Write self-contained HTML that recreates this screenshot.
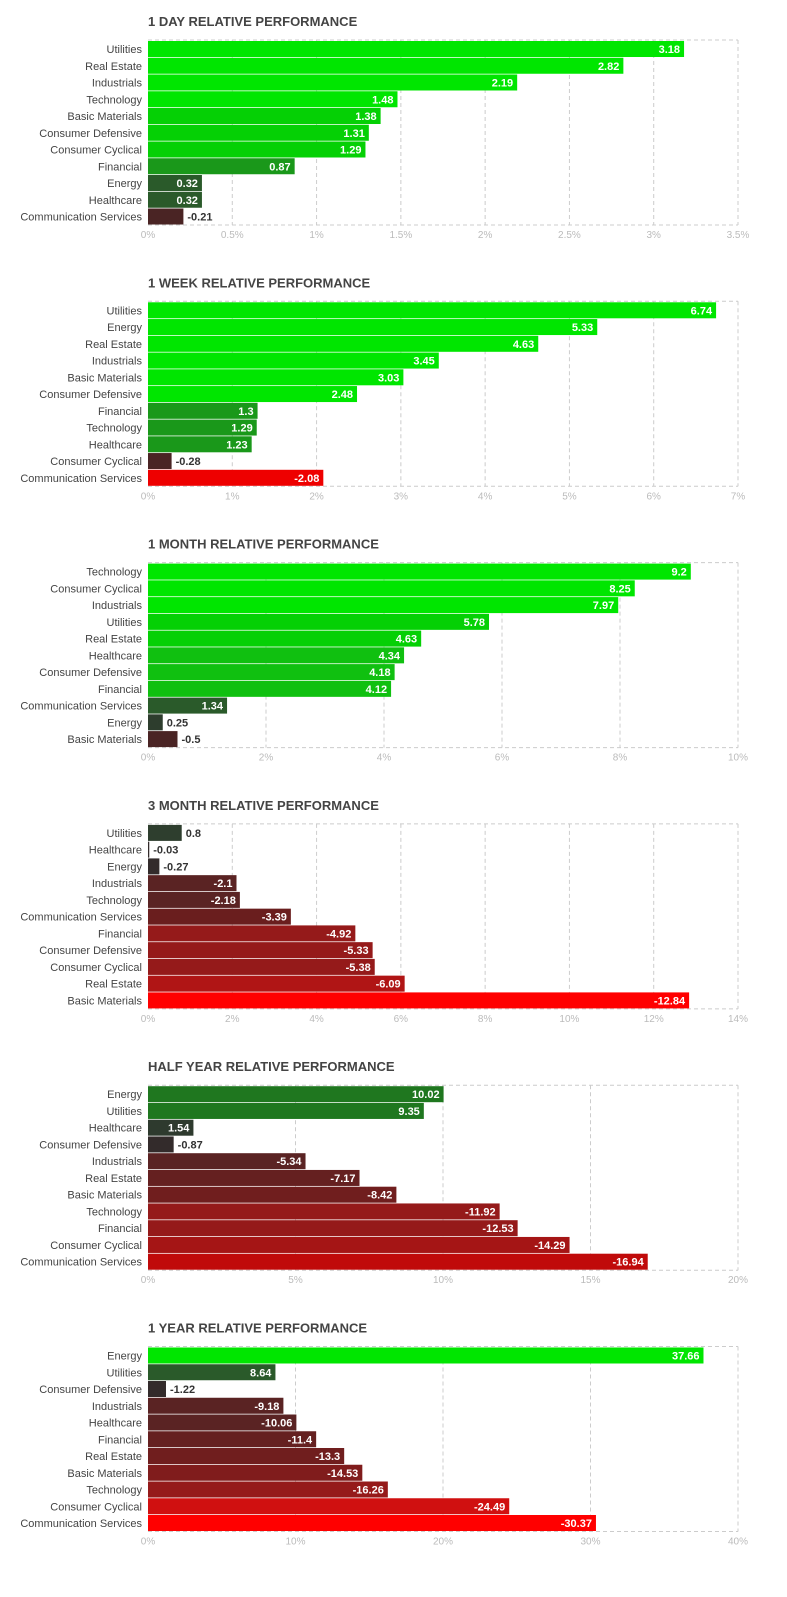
<!DOCTYPE html>
<html><head><meta charset="utf-8">
<style>
body{margin:0;background:#fff;width:787px;height:1597px;overflow:hidden;font-family:"Liberation Sans",sans-serif}
svg{display:block}
</style></head>
<body>
<svg id="chart" width="787" height="1597" xmlns="http://www.w3.org/2000/svg"></svg>
<script>
const titles=["1 DAY RELATIVE PERFORMANCE","1 WEEK RELATIVE PERFORMANCE","1 MONTH RELATIVE PERFORMANCE","3 MONTH RELATIVE PERFORMANCE","HALF YEAR RELATIVE PERFORMANCE","1 YEAR RELATIVE PERFORMANCE"];
const cats1=["Utilities","Real Estate","Industrials","Technology","Basic Materials","Consumer Defensive","Consumer Cyclical","Financial","Energy","Healthcare","Communication Services"];
const vals1=[3.18,2.82,2.19,1.48,1.38,1.31,1.29,0.87,0.32,0.32,-0.21];
const cats2=["Utilities","Energy","Real Estate","Industrials","Basic Materials","Consumer Defensive","Financial","Technology","Healthcare","Consumer Cyclical","Communication Services"];
const vals2=[6.74,5.33,4.63,3.45,3.03,2.48,1.3,1.29,1.23,-0.28,-2.08];
const cats3=["Technology","Consumer Cyclical","Industrials","Utilities","Real Estate","Healthcare","Consumer Defensive","Financial","Communication Services","Energy","Basic Materials"];
const vals3=[9.2,8.25,7.97,5.78,4.63,4.34,4.18,4.12,1.34,0.25,-0.5];
const cats4=["Utilities","Healthcare","Energy","Industrials","Technology","Communication Services","Financial","Consumer Defensive","Consumer Cyclical","Real Estate","Basic Materials"];
const vals4=[0.8,-0.03,-0.27,-2.1,-2.18,-3.39,-4.92,-5.33,-5.38,-6.09,-12.84];
const cats5=["Energy","Utilities","Healthcare","Consumer Defensive","Industrials","Real Estate","Basic Materials","Technology","Financial","Consumer Cyclical","Communication Services"];
const vals5=[10.02,9.35,1.54,-0.87,-5.34,-7.17,-8.42,-11.92,-12.53,-14.29,-16.94];
const cats6=["Energy","Utilities","Consumer Defensive","Industrials","Healthcare","Financial","Real Estate","Basic Materials","Technology","Consumer Cyclical","Communication Services"];
const vals6=[37.66,8.64,-1.22,-9.18,-10.06,-11.4,-13.3,-14.53,-16.26,-24.49,-30.37];
const ticks1=["0%","0.5%","1%","1.5%","2%","2.5%","3%","3.5%"];
const ticks2=["0%","1%","2%","3%","4%","5%","6%","7%"];
const ticks3=["0%","2%","4%","6%","8%","10%"];
const ticks4=["0%","2%","4%","6%","8%","10%","12%","14%"];
const ticks5=["0%","5%","10%","15%","20%"];
const ticks6=["0%","10%","20%","30%","40%"];
const colors1=["#00e600","#00e600","#00e600","#00e600","#05d005","#05d005","#05d005","#1a981a","#2a5a2a","#2a5a2a","#4a2424"];
const colors2=["#00e600","#00e600","#00e600","#00e600","#00e600","#00e600","#1a981a","#1a981a","#1a981a","#4a2424","#ee0000"];
const colors3=["#00e600","#00e600","#00e600","#05d005","#05d005","#10c010","#10c010","#10c010","#2a5a2a","#2d3d2d","#4a2424"];
const colors4=["#2e3e2e","#332b2b","#332b2b","#5a2323","#5a2323","#6a1e1e","#951a1a","#951a1a","#951a1a","#b01515","#ff0000"];
const colors5=["#1f771f","#1f771f","#2e3a2e","#332b2b","#5a2323","#652020","#701e1e","#951a1a","#951a1a","#a51515","#c00a0a"];
const colors6=["#00e600","#2a5a2a","#332b2b","#5a2323","#5a2323","#652020","#701e1e","#801c1c","#951a1a","#d01010","#ff0000"];
const charts=[[cats1,vals1,ticks1,colors1],[cats2,vals2,ticks2,colors2],[cats3,vals3,ticks3,colors3],[cats4,vals4,ticks4,colors4],[cats5,vals5,ticks5,colors5],[cats6,vals6,ticks6,colors6]];
const NS="http://www.w3.org/2000/svg";
const svg=document.getElementById('chart');
function mk(tag,attrs,parent,text){const e=document.createElementNS(NS,tag);for(const k in attrs)e.setAttribute(k,attrs[k]);if(text!==undefined)e.textContent=text;parent.appendChild(e);return e;}
const X0=148,X1=738,PITCH=16.75;
charts.forEach((c,i)=>{
  const [cats,vals,ticks,cols]=c;
  const oy=i*261.3;
  const g=mk('g',{},svg);
  
  
  const maxV=parseFloat(ticks[ticks.length-1]);
  const xs=v=>X0+Math.abs(v)/maxV*(X1-X0);
  const top=oy+40,bottom=oy+225;
  const t=mk('text',{x:148,y:oy+26,'font-size':13,'font-weight':'bold',fill:'#444'},g,titles[i]);
  
  
  mk('line',{x1:X0,y1:top,x2:X1,y2:top,stroke:'#ccc','stroke-dasharray':'4,3'},g);
  mk('line',{x1:X0,y1:bottom,x2:X1,y2:bottom,stroke:'#ccc','stroke-dasharray':'4,3'},g);
  ticks.forEach((tk,j)=>{
    const x=xs(parseFloat(tk));
    if(j>0) mk('line',{x1:x,y1:top,x2:x,y2:bottom,stroke:'#ccc','stroke-dasharray':'4,3'},g);
    const tl=mk('text',{x:x,y:oy+238,'font-size':10,fill:'#bbb','text-anchor':'middle'},g,tk);
    
    
  });
  cats.forEach((cat,k)=>{
    const y=top+1+k*PITCH;
    const v=vals[k];
    const w=xs(v)-X0;
    const lb=mk('text',{x:142,y:y+12,'font-size':11,fill:'#444','text-anchor':'end'},g,cat);
    
    
    const r=mk('rect',{x:X0,y:y,width:Math.max(w,1),height:16,fill:cols[k]},g);
    
    
    const s=String(v);
    let vt;
    if(w>45) vt=mk('text',{x:X0+w-4,y:y+12,'font-size':11,'font-weight':'bold',fill:'#fff','text-anchor':'end'},g,s);
    else vt=mk('text',{x:X0+w+4,y:y+12,'font-size':11,'font-weight':'bold',fill:'#333'},g,s);
    
    
  });
});
</script>
</body></html>
